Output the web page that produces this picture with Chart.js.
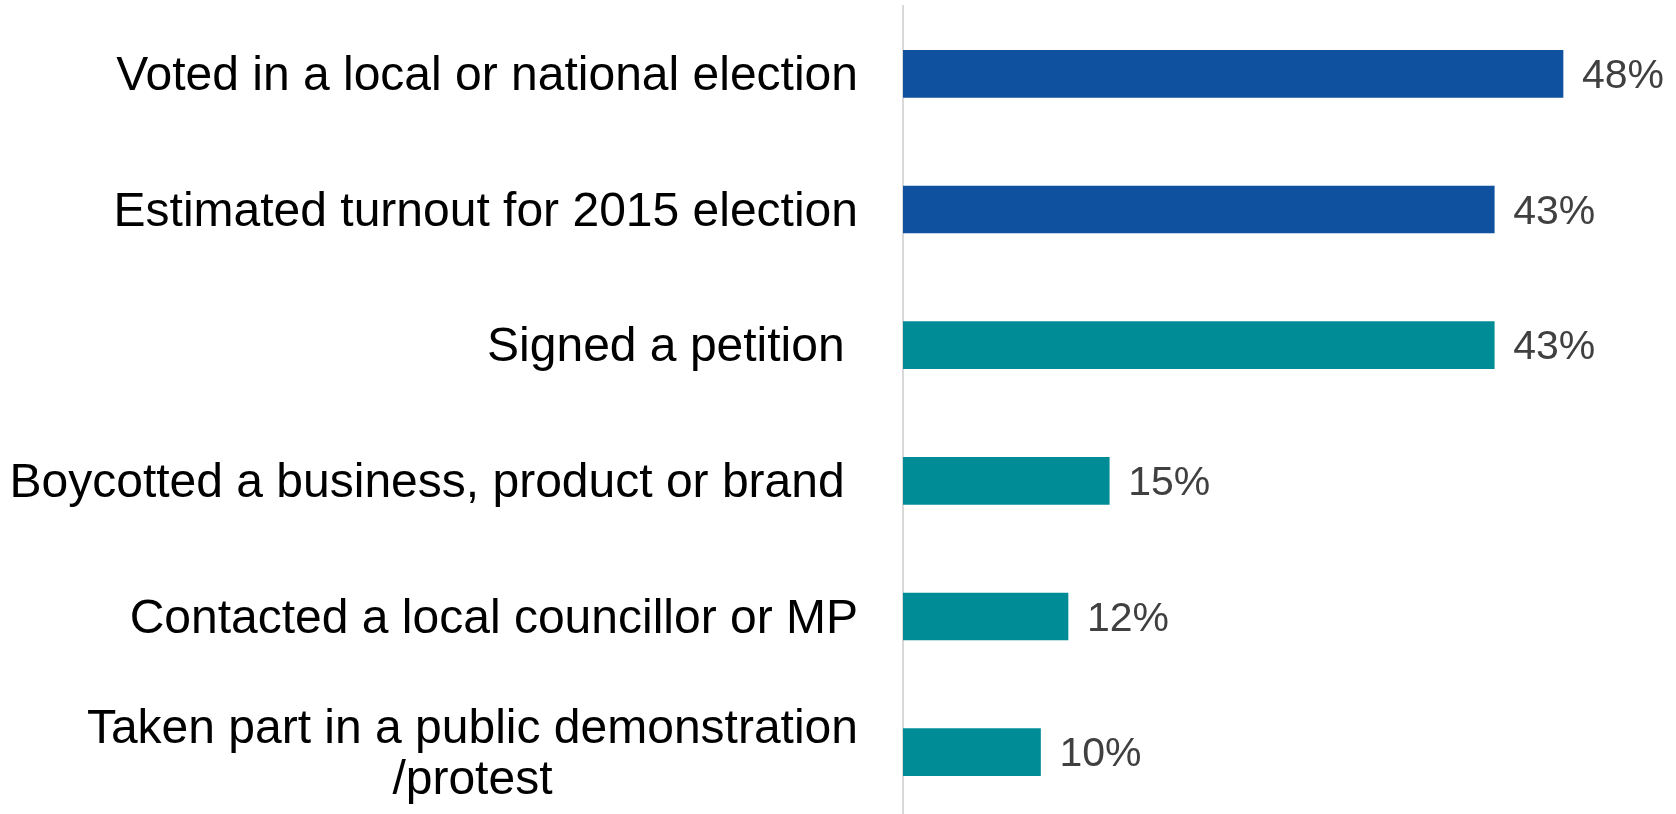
<!DOCTYPE html>
<html lang="en">
<head>
  <meta charset="utf-8">
  <title>Political participation</title>
  <script src="https://cdn.jsdelivr.net/npm/chart.js"></script>
  <style>
    * { box-sizing: border-box; margin: 0; padding: 0; }
    html, body { width: 1676px; height: 814px; overflow: hidden; background: #ffffff; }
    #wrap { position: relative; width: 1676px; height: 820px; }
  </style>
</head>
<body>
  <div id="wrap"><canvas id="chart"></canvas></div>
  <script>
    const categories = [
      ['Voted in a local or national election'],
      ['Estimated turnout for 2015 election'],
      ['Signed a petition '],
      ['Boycotted a business, product or brand '],
      ['Contacted a local councillor or MP'],
      ['Taken part in a public demonstration', '/protest']
    ];
    const values = [48, 43, 43, 15, 12, 10];
    const barColors = ['#0f519e', '#0f519e', '#008c97', '#008c97', '#008c97', '#008c97'];

    const FONT = '"Liberation Sans", Arial, sans-serif';

    // category names left of the axis; a wrapped name is centred on its widest line
    const categoryLabels = {
      id: 'categoryLabels',
      afterDraw(chart) {
        const { ctx, scales: { y } } = chart;
        const rightEdge = 858, lineH = 51;
        ctx.save();
        ctx.font = '48px ' + FONT;
        ctx.fillStyle = '#000000';
        ctx.textBaseline = 'middle';
        categories.forEach((lines, i) => {
          const cy = y.getPixelForValue(i) + 3;
          const widest = Math.max(...lines.map(l => ctx.measureText(l).width));
          const mid = rightEdge - widest / 2;
          lines.forEach((line, j) => {
            const ly = cy + (j - (lines.length - 1) / 2) * lineH;
            if (lines.length > 1) { ctx.textAlign = 'center'; ctx.fillText(line, mid, ly); }
            else { ctx.textAlign = 'right'; ctx.fillText(line, rightEdge, ly); }
          });
        });
        ctx.restore();
      }
    };

    // percentage next to the end of each bar
    const valueLabels = {
      id: 'valueLabels',
      afterDatasetsDraw(chart) {
        const { ctx } = chart;
        const meta = chart.getDatasetMeta(0);
        ctx.save();
        ctx.font = '41px ' + FONT;
        ctx.fillStyle = '#404040';
        ctx.textAlign = 'left';
        ctx.textBaseline = 'middle';
        meta.data.forEach((bar, i) => {
          ctx.fillText(values[i] + '%', bar.x + 19, bar.y + 3);
        });
        ctx.restore();
      }
    };

    new Chart(document.getElementById('chart'), {
      type: 'bar',
      data: {
        labels: categories,
        datasets: [{ data: values, backgroundColor: barColors, borderWidth: 0, barThickness: 47 }]
      },
      options: {
        indexAxis: 'y',
        responsive: true,
        maintainAspectRatio: false,
        animation: false,
        layout: { padding: { top: 6, right: 3, bottom: 0, left: 0 } },
        plugins: { legend: { display: false }, tooltip: { enabled: false } },
        scales: {
          x: { display: false, min: 0, max: 56 },
          y: {
            grid: { display: false },
            border: { display: true, color: '#d9d9d9', width: 2 },
            ticks: { display: false },
            afterFit(scale) { scale.width = 903; }
          }
        }
      },
      plugins: [categoryLabels, valueLabels]
    });
  </script>
</body>
</html>
